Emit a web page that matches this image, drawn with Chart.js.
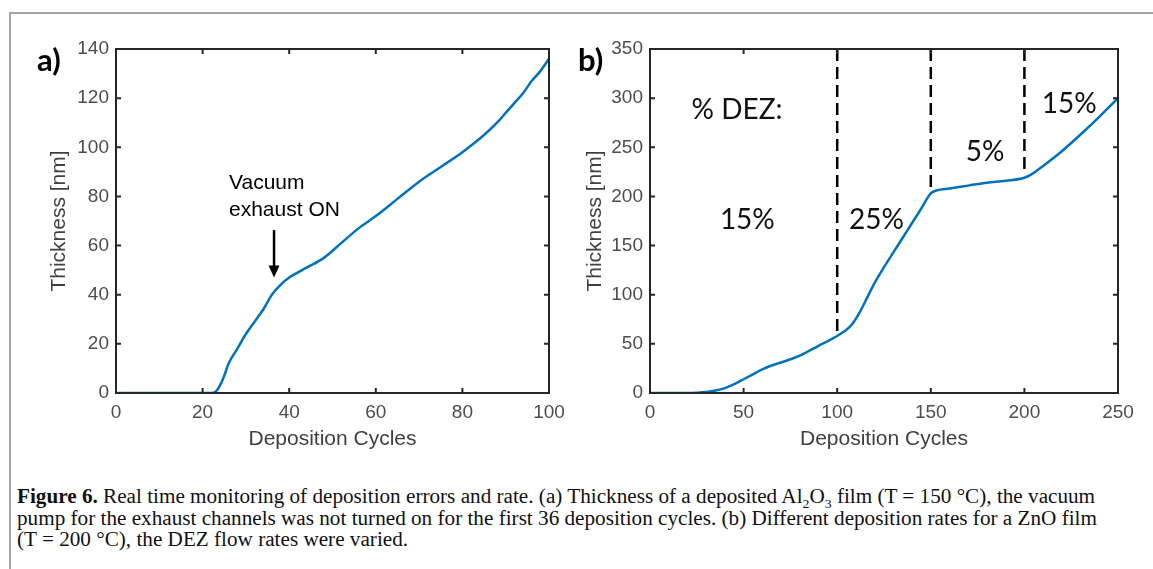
<!DOCTYPE html>
<html>
<head>
<meta charset="utf-8">
<script src="https://cdn.jsdelivr.net/npm/chart.js@4"></script>
<style>
  body { margin: 0; background: #fff; width: 1153px; height: 569px; overflow: hidden; position: relative; }
  .frame { position: absolute; left: 9px; top: 12px; width: 1160px; height: 600px; border-left: 2px solid #a3a3a3; border-top: 2px solid #a3a3a3; }
  .wrap { position: absolute; top: 0; height: 460px; }
  #wa { left: 0; width: 575px; }
  #wb { left: 575px; width: 578px; }
  .panel { position: absolute; font-family: Lato, sans-serif; font-weight: bold; font-size: 31px; color: #000; line-height: 1; }
  .caption { position: absolute; left: 17px; top: 486px; font-family: "Liberation Serif", serif; font-size: 20px; line-height: 21.5px; white-space: nowrap; color: #111; transform-origin: 0 0; }
  .caption sub { font-size: 13px; line-height: 0; }
</style>
</head>
<body>
<div class="frame"></div>
<div class="wrap" id="wa"><canvas id="chartA"></canvas></div>
<div class="wrap" id="wb"><canvas id="chartB"></canvas></div>
<div class="panel" style="left:37px;top:44px">a)</div>
<div class="panel" style="left:578px;top:44px">b)</div>
<div class="caption" id="cap">
  <div id="line1"><b>Figure 6.</b> Real time monitoring of deposition errors and rate. (a) Thickness of a deposited Al<sub>2</sub>O<sub>3</sub> film (T = 150 °C), the vacuum</div>
  <div>pump for the exhaust channels was not turned on for the first 36 deposition cycles. (b) Different deposition rates for a ZnO film</div>
  <div>(T = 200 °C), the DEZ flow rates were varied.</div>
</div>
<script>
// panel a: Al2O3 film
const cyclesA = [0, 10, 20, 22, 23, 24, 25, 26, 28, 30, 32, 34, 36, 38, 40, 44, 48, 52, 56, 60, 65, 70, 75, 80, 85, 88, 90, 92, 94, 96, 98, 100];
const thickA = [0, 0, 0, 0, 0.5, 3, 7, 12, 18, 24, 29, 34, 40, 44, 47, 51, 55, 61, 67, 72, 79, 86, 92, 98, 105, 110, 114, 118, 122, 127, 131, 136];

// panel b: ZnO film
const cyclesB = [0, 10, 20, 25, 30, 35, 40, 45, 50, 55, 60, 65, 70, 80, 90, 100, 104, 108, 112, 116, 120, 125, 130, 135, 140, 145, 150, 153, 160, 170, 180, 190, 200, 205, 210, 220, 230, 240, 250];
const thickB = [0, 0, 0, 0.3, 1, 2.5, 5, 9, 14, 19, 24, 28, 31, 38, 48, 58, 63, 70, 82, 97, 112, 128, 143, 158, 173, 188, 203, 206, 208, 211, 214, 216, 219, 224, 231, 246, 263, 281, 300];

// DEZ change markers
const dezCycles = [100, 150, 200];
const dezLineEnds = [60, 205, 228];

const blue = "#0072bd";
Chart.defaults.font.family = "'Liberation Sans', Arial, sans-serif";
Chart.defaults.color = "#4d4d4d";

const toPoints = (xs, ys) => xs.map((x, i) => ({ x: x, y: ys[i] }));

// matlab style box with inward ticks
const boxPlugin = {
  id: "box",
  afterDatasetsDraw(chart) {
    const { ctx, chartArea: a, scales } = chart;
    ctx.save();
    ctx.strokeStyle = "#262626";
    ctx.lineWidth = 2;
    ctx.beginPath();
    scales.x.ticks.forEach((t) => {
      const px = scales.x.getPixelForValue(t.value);
      ctx.moveTo(px, a.bottom); ctx.lineTo(px, a.bottom - 5);
      ctx.moveTo(px, a.top); ctx.lineTo(px, a.top + 5);
    });
    scales.y.ticks.forEach((t) => {
      const py = scales.y.getPixelForValue(t.value);
      ctx.moveTo(a.left, py); ctx.lineTo(a.left + 5, py);
      ctx.moveTo(a.right, py); ctx.lineTo(a.right - 5, py);
    });
    ctx.stroke();
    ctx.strokeRect(a.left, a.top, a.right - a.left, a.bottom - a.top);
    ctx.restore();
  },
};

const notesA = {
  id: "notesA",
  afterDatasetsDraw(chart) {
    const { ctx, scales: { x, y } } = chart;
    ctx.save();
    ctx.fillStyle = "#000";
    ctx.font = "21px 'Liberation Sans', Arial, sans-serif";
    ctx.textBaseline = "middle";
    ctx.fillText("Vacuum", x.getPixelForValue(26.1), y.getPixelForValue(85.5));
    ctx.fillText("exhaust ON", x.getPixelForValue(26.1), y.getPixelForValue(74.5));
    const ax = x.getPixelForValue(36.5);
    const top = y.getPixelForValue(66.3);
    const tip = y.getPixelForValue(47);
    ctx.strokeStyle = "#000";
    ctx.lineWidth = 2.5;
    ctx.beginPath();
    ctx.moveTo(ax, top); ctx.lineTo(ax, tip - 8);
    ctx.stroke();
    ctx.beginPath();
    ctx.moveTo(ax - 5.5, tip - 12); ctx.lineTo(ax + 5.5, tip - 12); ctx.lineTo(ax, tip);
    ctx.closePath();
    ctx.fill();
    ctx.restore();
  },
};

const notesB = {
  id: "notesB",
  afterDatasetsDraw(chart) {
    const { ctx, scales: { x, y } } = chart;
    const labels = [
      ["% DEZ:", 46.5, 288],
      ["15%", 52, 176],
      ["25%", 121, 176],
      ["5%", 179, 245],
      ["15%", 224, 294],
    ];
    ctx.save();
    ctx.fillStyle = "#111";
    ctx.font = "28px Lato, sans-serif";
    ctx.textAlign = "center";
    ctx.textBaseline = "middle";
    labels.forEach((l) => ctx.fillText(l[0], x.getPixelForValue(l[1]), y.getPixelForValue(l[2])));
    ctx.restore();
  },
};

function makeOptions(xMax, xStep, yMax, yStep, yWidth, yTitlePad, rightPad) {
  return {
    responsive: true,
    maintainAspectRatio: false,
    animation: false,
    layout: { padding: { left: 0, top: 49, right: rightPad, bottom: 0 } },
    plugins: { legend: { display: false }, tooltip: { enabled: false } },
    elements: { point: { radius: 0 } },
    scales: {
      x: {
        type: "linear",
        min: 0,
        max: xMax,
        grid: { display: false, drawTicks: false },
        border: { display: false },
        ticks: { stepSize: xStep, autoSkip: false, maxRotation: 0, padding: 8, font: { size: 19 }, color: "#4d4d4d" },
        title: { display: true, text: "Deposition Cycles", font: { size: 21 }, color: "#404040", padding: { top: 0, bottom: 8 } },
        afterFit: (s) => { s.height = 67; },
      },
      y: {
        min: 0,
        max: yMax,
        grid: { display: false, drawTicks: false },
        border: { display: false },
        ticks: { stepSize: yStep, autoSkip: false, padding: 7, font: { size: 19 }, color: "#4d4d4d" },
        title: { display: true, text: "Thickness [nm]", font: { size: 21 }, color: "#404040", padding: { top: yTitlePad, bottom: 0 } },
        afterFit: (s) => { s.width = yWidth; },
      },
    },
  };
}

new Chart(document.getElementById("chartA"), {
  type: "line",
  data: {
    datasets: [{
      data: toPoints(cyclesA, thickA),
      borderColor: blue,
      borderWidth: 2.5,
      cubicInterpolationMode: "monotone",
      fill: false,
    }],
  },
  options: makeOptions(100, 20, 140, 20, 116, 47, 26),
  plugins: [boxPlugin, notesA],
});

const dashSets = dezCycles.map((c, i) => ({
  data: [{ x: c, y: 350 }, { x: c, y: dezLineEnds[i] }],
  borderColor: "#000",
  borderWidth: 2.5,
  borderDash: [12, 6],
  fill: false,
}));

new Chart(document.getElementById("chartB"), {
  type: "line",
  data: {
    datasets: [{
      data: toPoints(cyclesB, thickB),
      borderColor: blue,
      borderWidth: 2.5,
      cubicInterpolationMode: "monotone",
      fill: false,
    }].concat(dashSets),
  },
  options: makeOptions(250, 50, 350, 50, 75, 8, 35),
  plugins: [boxPlugin, notesB],
});

// fit caption to reference width
const cap = document.getElementById("cap");
const w = document.getElementById("line1").scrollWidth;
cap.style.transform = "scaleX(" + (1080 / w) + ")";
</script>
</body>
</html>
